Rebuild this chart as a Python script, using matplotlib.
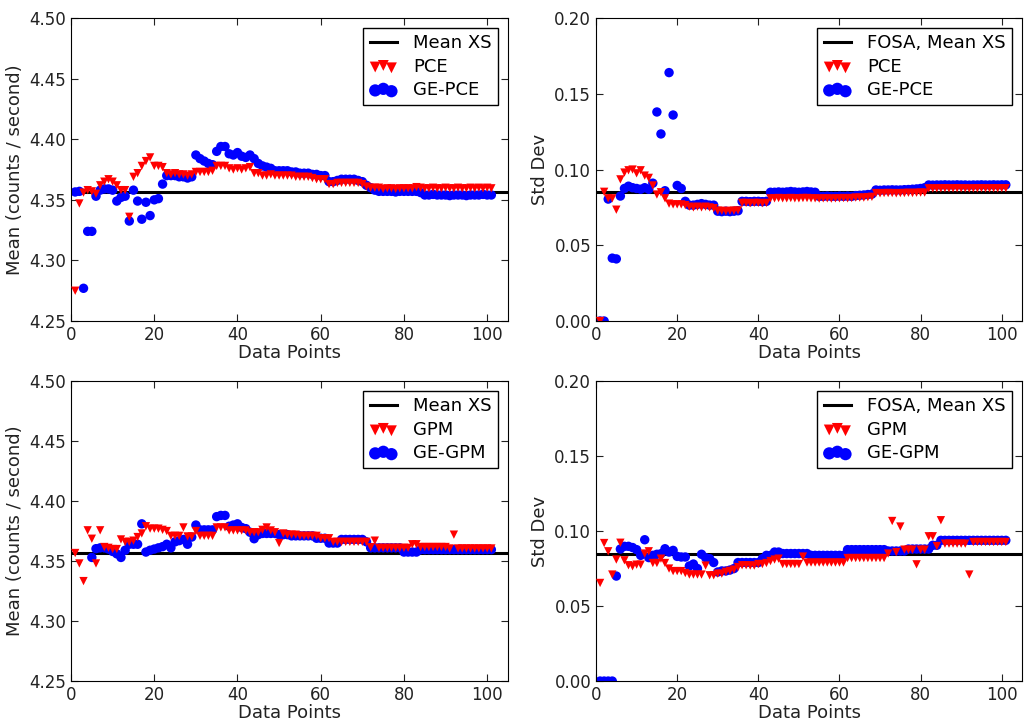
"""Mean and std dev convergence of PCE / GPM surrogates vs data points."""

import numpy as np
import matplotlib
matplotlib.use("Agg")
import matplotlib.pyplot as plt
from matplotlib.ticker import FormatStrFormatter, MultipleLocator

nan = np.nan

data_points = np.arange(1, 102)

mean_xs = 4.3567
fosa_std = 0.085

# mean, PCE (red triangles)
pce_mean = [
    4.275, 4.347, 4.356, 4.358, 4.357, 4.355, 4.362, 4.365, 4.367, 4.365,
    4.362, 4.358, 4.358, 4.336, 4.369, 4.372, 4.378, 4.382, 4.385, 4.378,
    4.378, 4.377, 4.372, 4.371, 4.372, 4.371, 4.371, 4.370, 4.371, 4.373,
    4.373, 4.373, 4.373, 4.374, 4.378, 4.378, 4.378, 4.376, 4.375, 4.376,
    4.375, 4.376, 4.377, 4.372, 4.372, 4.370, 4.370, 4.371, 4.370, 4.370,
    4.370, 4.370, 4.370, 4.369, 4.369, 4.369, 4.369, 4.368, 4.367, 4.367,
    4.367, 4.363, 4.363, 4.364, 4.364, 4.364, 4.364, 4.364, 4.364, 4.363,
    4.361, 4.360, 4.360, 4.360, 4.359, 4.3595, 4.3595, 4.359, 4.3595, 4.3595,
    4.3595, 4.3595, 4.3605, 4.360, 4.3595, 4.3595, 4.360, 4.3595, 4.3595, 4.360,
    4.3595, 4.3595, 4.360, 4.3595, 4.3595, 4.360, 4.3595, 4.360, 4.3595, 4.360,
    4.3595,
]

# mean, GE-PCE (blue circles)
gepce_mean = [
    4.3565, 4.357, 4.277, 4.324, 4.324, 4.353, 4.358, 4.359, 4.359, 4.358,
    4.349, 4.352, 4.353, 4.3325, 4.358, 4.349, 4.334, 4.348, 4.337, 4.350,
    4.351, 4.363, 4.370, 4.370, 4.370, 4.369, 4.369, 4.368, 4.369, 4.387,
    4.384, 4.382, 4.380, 4.379, 4.390, 4.394, 4.394, 4.388, 4.387, 4.389,
    4.386, 4.385, 4.387, 4.384, 4.380, 4.378, 4.377, 4.376, 4.374, 4.374,
    4.374, 4.374, 4.373, 4.373, 4.372, 4.372, 4.372, 4.371, 4.371, 4.370,
    4.370, 4.365, 4.365, 4.366, 4.367, 4.367, 4.367, 4.367, 4.366, 4.365,
    4.362, 4.360, 4.358, 4.357, 4.357, 4.357, 4.357, 4.3565, 4.357, 4.357,
    4.357, 4.357, 4.357, 4.356, 4.354, 4.354, 4.3545, 4.354, 4.354, 4.354,
    4.3535, 4.354, 4.354, 4.354, 4.3535, 4.354, 4.354, 4.354, 4.3545, 4.354,
    4.354,
]

# std dev, PCE
pce_std = [
    0.000, 0.0853, 0.081, 0.081, 0.0735, 0.0935, 0.098, 0.0995, 0.100, 0.0975,
    0.0995, 0.096, 0.0945, 0.0895, 0.0835, 0.085, 0.081, 0.0775, 0.077, 0.077,
    0.077, 0.0765, 0.0755, 0.075, 0.0755, 0.075, 0.0755, 0.075, 0.0745, 0.0728,
    0.0728, 0.0725, 0.0728, 0.0728, 0.073, 0.078, 0.078, 0.0778, 0.078, 0.078,
    0.0778, 0.078, 0.081, 0.081, 0.0812, 0.081, 0.081, 0.0812, 0.081, 0.081,
    0.0812, 0.0812, 0.081, 0.081, 0.0808, 0.081, 0.081, 0.0808, 0.081, 0.081,
    0.0812, 0.081, 0.0812, 0.0815, 0.0815, 0.0815, 0.0818, 0.082, 0.0845, 0.0843,
    0.0845, 0.0845, 0.0845, 0.0843, 0.0845, 0.0845, 0.0847, 0.0845, 0.0847, 0.0848,
    0.0848, 0.0876, 0.0875, 0.0876, 0.0876, 0.0877, 0.0876, 0.0876, 0.0877, 0.0876,
    0.0876, 0.0875, 0.0876, 0.0876, 0.0877, 0.0876, 0.0876, 0.0877, 0.0876, 0.0877,
    0.0877,
]

# std dev, GE-PCE
gepce_std = [
    0.000, 0.000, 0.0805, 0.0415, 0.041, 0.0825, 0.0875, 0.089, 0.088, 0.0875,
    0.087, 0.088, 0.087, 0.091, 0.138, 0.1235, 0.086, 0.164, 0.136, 0.0895,
    0.0875, 0.079, 0.0765, 0.0765, 0.077, 0.0775, 0.077, 0.0765, 0.0765, 0.0725,
    0.0722, 0.0725, 0.0722, 0.0725, 0.0728, 0.079, 0.079, 0.0788, 0.079, 0.079,
    0.0788, 0.079, 0.085, 0.085, 0.0852, 0.085, 0.0852, 0.0855, 0.0852, 0.085,
    0.0852, 0.0855, 0.0852, 0.085, 0.0823, 0.0823, 0.0825, 0.0823, 0.0823, 0.0825,
    0.0823, 0.0825, 0.0823, 0.0828, 0.083, 0.0832, 0.0835, 0.0838, 0.0865, 0.0863,
    0.0865, 0.0865, 0.0866, 0.0865, 0.0865, 0.0867, 0.0868, 0.087, 0.0872, 0.0875,
    0.088, 0.0898, 0.0897, 0.0898, 0.0898, 0.0899, 0.0898, 0.0898, 0.0899, 0.0898,
    0.0898, 0.0897, 0.0898, 0.0898, 0.0899, 0.0898, 0.0898, 0.0899, 0.0898, 0.0899,
    0.0899,
]

# mean, GPM (red triangles)
gpm_mean = [
    4.3567, 4.348, 4.3333, 4.3756, 4.3686, 4.348, 4.3756, 4.3617, 4.361, 4.360,
    4.360, 4.368, 4.366, 4.366, 4.367, 4.370, 4.373, 4.379, 4.377, 4.377,
    4.377, 4.376, 4.375, 4.371, 4.371, 4.371, 4.378, 4.3705, 4.3705, 4.375,
    4.371, 4.371, 4.371, 4.371, 4.378, 4.378, 4.378, 4.3755, 4.3755, 4.3755,
    4.3755, 4.3755, 4.374, 4.374, 4.374, 4.376, 4.378, 4.3755, 4.374, 4.365,
    4.373, 4.372, 4.372, 4.372, 4.371, 4.371, 4.371, 4.371, 4.371, 4.369,
    4.369, 4.369, 4.366, 4.366, 4.366, 4.366, 4.366, 4.366, 4.366, 4.366,
    4.366, 4.3615, 4.367, 4.361, 4.361, 4.361, 4.361, 4.361, 4.361, 4.361,
    4.361, 4.364, 4.364, 4.3617, 4.3617, 4.3617, 4.3617, 4.3617, 4.3617, 4.3617,
    4.3605, 4.372, 4.3605, 4.3605, 4.3605, 4.3605, 4.3605, 4.3605, 4.3605, 4.3605,
    4.3605,
]

# mean, GE-GPM (blue circles)
gegpm_mean = [
    nan, nan, nan, nan, 4.353, 4.3603, 4.361, 4.361, 4.360, 4.358,
    4.356, 4.353, 4.359, 4.364, 4.364, 4.364, 4.381, 4.3575, 4.359, 4.360,
    4.361, 4.362, 4.364, 4.361, 4.366, 4.367, 4.368, 4.364, 4.370, 4.380,
    4.376, 4.376, 4.376, 4.376, 4.387, 4.388, 4.388, 4.379, 4.380, 4.381,
    4.378, 4.377, 4.374, 4.3686, 4.372, 4.373, 4.373, 4.373, 4.373, 4.372,
    4.372, 4.372, 4.371, 4.371, 4.371, 4.371, 4.371, 4.371, 4.369, 4.369,
    4.369, 4.365, 4.365, 4.365, 4.368, 4.368, 4.368, 4.368, 4.368, 4.368,
    4.366, 4.361, 4.361, 4.361, 4.361, 4.361, 4.361, 4.361, 4.361, 4.3575,
    4.3575, 4.3575, 4.3575, 4.3595, 4.3595, 4.3595, 4.3595, 4.3595, 4.3595, 4.3595,
    4.3595, 4.3595, 4.3595, 4.3595, 4.3595, 4.3595, 4.3595, 4.3595, 4.3595, 4.3595,
    4.3595,
]

# std dev, GPM
gpm_std = [
    0.0654, 0.092, 0.0865, 0.071, 0.081, 0.0922, 0.0805, 0.0772, 0.0765, 0.0776,
    0.0776, 0.085, 0.0865, 0.0787, 0.0787, 0.0816, 0.0787, 0.075, 0.0733, 0.0733,
    0.0733, 0.072, 0.071, 0.071, 0.071, 0.071, 0.077, 0.0705, 0.0705, 0.0716,
    0.0716, 0.0728, 0.0735, 0.0743, 0.076, 0.0772, 0.0772, 0.077, 0.077, 0.078,
    0.078, 0.0787, 0.080, 0.081, 0.0816, 0.078, 0.078, 0.078, 0.078, 0.078,
    0.083, 0.079, 0.079, 0.079, 0.079, 0.079, 0.079, 0.079, 0.079, 0.079,
    0.079, 0.082, 0.082, 0.082, 0.082, 0.082, 0.082, 0.082, 0.082, 0.082,
    0.082, 0.085, 0.1067, 0.086, 0.103, 0.0876, 0.0876, 0.0876, 0.0778, 0.0876,
    0.0876, 0.0965, 0.0965, 0.090, 0.1072, 0.0916, 0.0916, 0.0916, 0.0916, 0.0916,
    0.0916, 0.071, 0.0927, 0.0927, 0.0927, 0.0927, 0.0927, 0.0927, 0.0927, 0.0927,
    0.0927,
]

# std dev, GE-GPM
gegpm_std = [
    0.000, 0.000, 0.000, 0.000, 0.070, 0.088, 0.0898, 0.0898, 0.089, 0.0876,
    0.0838, 0.0942, 0.0823, 0.0838, 0.0845, 0.0849, 0.0882, 0.086, 0.0871, 0.0831,
    0.0827, 0.0827, 0.0767, 0.078, 0.075, 0.0845, 0.0823, 0.0816, 0.079, 0.0727,
    0.0734, 0.0734, 0.074, 0.075, 0.079, 0.079, 0.079, 0.079, 0.079, 0.079,
    0.0816, 0.0838, 0.0838, 0.086, 0.086, 0.085, 0.085, 0.085, 0.085, 0.085,
    0.085, 0.085, 0.0838, 0.0838, 0.0838, 0.0838, 0.0838, 0.0838, 0.0838, 0.0838,
    0.0838, 0.0876, 0.0876, 0.0876, 0.0876, 0.0876, 0.0876, 0.0876, 0.0876, 0.0876,
    0.0876, 0.0867, 0.0867, 0.0867, 0.0867, 0.0867, 0.088, 0.088, 0.088, 0.088,
    0.088, 0.088, 0.0905, 0.0905, 0.0938, 0.0938, 0.0938, 0.0938, 0.0938, 0.0938,
    0.0938, 0.0938, 0.0938, 0.0938, 0.0938, 0.0938, 0.0938, 0.0938, 0.0938, 0.0938,
    0.0938,
]


def draw_panel(ax, red_vals, blue_vals, ref_val, ref_label, red_label,
               blue_label, ylim, ylabel):
    """Draw one convergence panel with a reference line and two scatters."""
    line = ax.axhline(ref_val, color="black", linewidth=2.2, zorder=1)
    blue = ax.scatter(data_points, blue_vals, s=46, marker="o", color="blue",
                      edgecolors="none", zorder=2)
    red = ax.scatter(data_points, red_vals, s=36, marker="v", color="red",
                     edgecolors="none", zorder=3)
    ax.set_xlim(0, 105)
    ax.set_ylim(*ylim)
    ax.xaxis.set_major_locator(MultipleLocator(20))
    ax.yaxis.set_major_locator(MultipleLocator(0.05))
    ax.yaxis.set_major_formatter(FormatStrFormatter("%.2f"))
    ax.tick_params(direction="in", top=True, right=True, length=5,
                   labelsize=12, colors="#222222")
    ax.set_xlabel("Data Points", fontsize=13, labelpad=0, color="#222222")
    ax.set_ylabel(ylabel, fontsize=13, color="#222222")
    leg = ax.legend([line, red, blue], [ref_label, red_label, blue_label],
                    loc="upper right", scatterpoints=3, fontsize=13,
                    fancybox=False, framealpha=1, borderaxespad=0.55,
                    borderpad=0.35, labelspacing=0.3, handlelength=1.5,
                    handletextpad=0.9, markerscale=1.3)
    leg.get_frame().set_edgecolor("black")
    leg.get_frame().set_linewidth(1)


fig = plt.figure(figsize=(10.25, 7.23), dpi=100)

ax1 = fig.add_axes([0.0693, 0.556, 0.4263, 0.419])
ax2 = fig.add_axes([0.5815, 0.556, 0.4156, 0.419])
ax3 = fig.add_axes([0.0693, 0.058, 0.4263, 0.415])
ax4 = fig.add_axes([0.5815, 0.058, 0.4156, 0.415])

draw_panel(ax1, pce_mean, gepce_mean, mean_xs, "Mean XS", "PCE", "GE-PCE",
           (4.25, 4.50), "Mean (counts / second)")
draw_panel(ax2, pce_std, gepce_std, fosa_std, "FOSA, Mean XS", "PCE", "GE-PCE",
           (0.0, 0.20), "Std Dev")
draw_panel(ax3, gpm_mean, gegpm_mean, mean_xs, "Mean XS", "GPM", "GE-GPM",
           (4.25, 4.50), "Mean (counts / second)")
draw_panel(ax4, gpm_std, gegpm_std, fosa_std, "FOSA, Mean XS", "GPM", "GE-GPM",
           (0.0, 0.20), "Std Dev")

fig.savefig("out.png", dpi=100)
plt.close(fig)
